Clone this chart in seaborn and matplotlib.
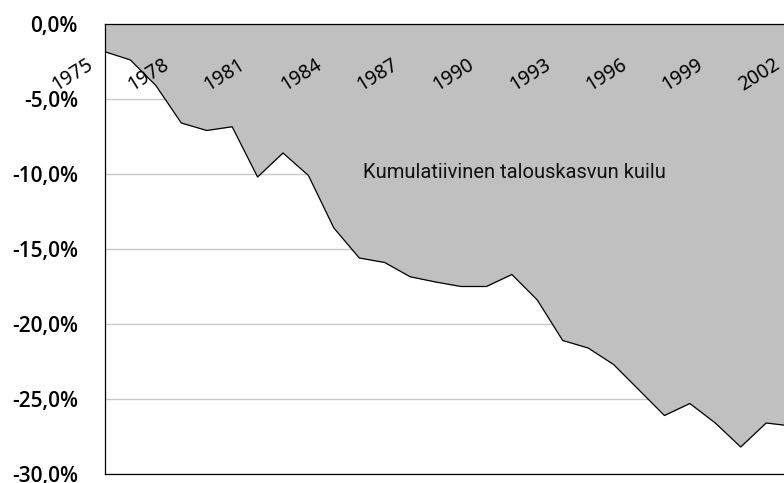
import numpy as np
import seaborn as sns
import matplotlib.pyplot as plt
from matplotlib.ticker import FuncFormatter

# Vuodet ja kumulatiivinen kuilu (%)
vuodet = np.arange(1975, 2003)
kuilu = [-1.85, -2.4, -4.1, -6.6, -7.1, -6.85, -10.2, -8.6, -10.1, -13.6,
         -15.6, -15.9, -16.85, -17.2, -17.5, -17.5, -16.7, -18.4, -21.1, -21.6,
         -22.7, -24.4, -26.1, -25.3, -26.6, -28.2, -26.6, -26.8]
vuosi_nimet = [1975, 1978, 1981, 1984, 1987, 1990, 1993, 1996, 1999, 2002]
y_tikit = [0, -5, -10, -15, -20, -25, -30]

sns.set_style('white')
plt.rcParams['font.family'] = ['Open Sans', 'DejaVu Sans']
plt.rcParams['text.color'] = 'black'
plt.rcParams['ytick.color'] = 'black'

fig = plt.figure(figsize=(7.84, 4.83), dpi=100)
ax = fig.add_axes([105 / 784, 9 / 483, 712 / 784, 450 / 483])

ax.fill_between(vuodet, kuilu, 0, color='#c0c0c0', linewidth=0, zorder=1)
sns.lineplot(x=vuodet, y=kuilu, color='black', linewidth=0.9, ax=ax, zorder=2)

ax.set_xlim(1975, 2003)
ax.set_ylim(-30, 0)
ax.set_axisbelow(True)

# y-akseli
ax.set_yticks(y_tikit)
ax.yaxis.set_major_formatter(FuncFormatter(lambda v, p: f'{v:.1f}%'.replace('.', ',')))
ax.yaxis.grid(True, color='#c8c8c8', linewidth=1)
ax.tick_params(axis='y', direction='out', length=5.5, width=0.8, color='black',
               pad=14, labelsize=15, labelcolor='black')
for t in ax.get_yticklabels():
    t.set_fontweight('semibold')

# x-akseli ylhäällä
ax.xaxis.tick_top()
ax.set_xticks(vuodet)
ax.set_xticklabels([])
ax.tick_params(axis='x', direction='in', length=4.5, width=0.8, color='black',
               top=True, bottom=False)
for v in vuosi_nimet:
    ax.annotate(str(v), xy=(v, 1), xycoords=('data', 'axes fraction'),
                xytext=(-8, -31), textcoords='offset points',
                rotation=32, rotation_mode='anchor', ha='right', va='baseline',
                fontsize=14, color='black', annotation_clip=False,
                family=['Noto Sans', 'DejaVu Sans'])

for s in ['top', 'left', 'bottom']:
    ax.spines[s].set_color('black')
    ax.spines[s].set_linewidth(0.9)
ax.spines['right'].set_visible(False)
ax.set_xlabel('')
ax.set_ylabel('')

ax.text(1991.1, -9.9, 'Kumulatiivinen talouskasvun kuilu', ha='center', va='center',
        fontsize=14.5, color='#111111', family=['Roboto', 'DejaVu Sans'])

fig.savefig('out.png', dpi=100)
